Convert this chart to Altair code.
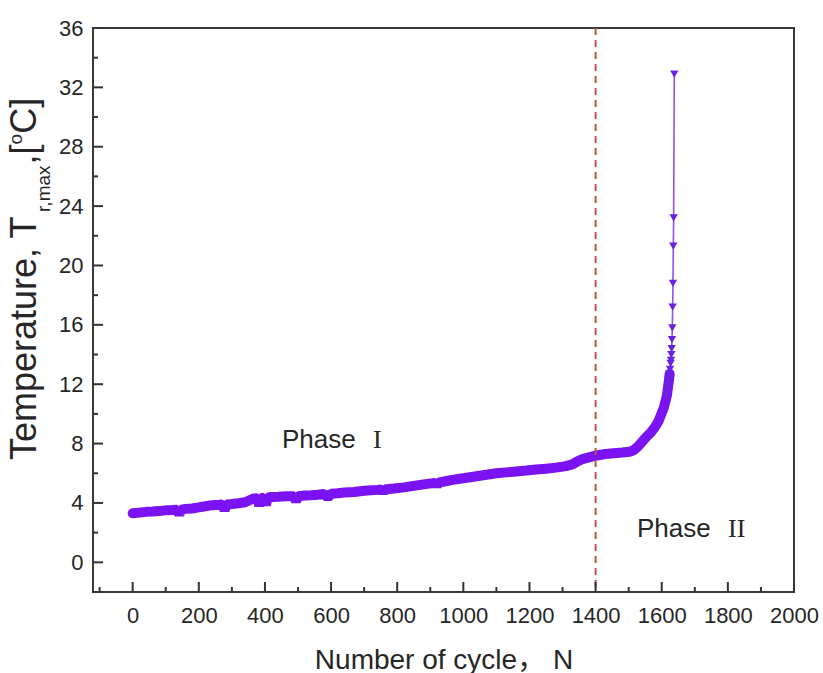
import altair as alt
import pandas as pd

# ---------------- data ----------------
cycles = [0, 20, 40, 60, 80, 100, 120, 135, 141, 147, 160, 180, 200, 220, 240, 262, 272, 278, 284,
          300, 320, 340, 355, 365, 378, 383, 388, 398, 403, 408, 420, 440, 464, 488, 494, 500,
          520, 540, 560, 580, 590, 600, 620, 640, 670, 700, 740, 752, 757, 762, 790, 820, 850,
          880, 915, 920, 925, 950, 980, 1010, 1040, 1070, 1100, 1130, 1160, 1190, 1220, 1250,
          1280, 1310, 1330, 1345, 1360, 1380, 1403, 1430, 1455, 1480, 1503, 1515, 1528, 1540,
          1554, 1567, 1579, 1590, 1599, 1606, 1612, 1616, 1619, 1622, 1624]
temp = [3.3, 3.35, 3.4, 3.42, 3.45, 3.5, 3.52, 3.55, 3.2, 3.55, 3.6, 3.63, 3.7, 3.78, 3.85, 3.88, 3.9, 3.5, 3.9,
        3.93, 3.98, 4.05, 4.2, 4.3, 4.32, 3.8, 4.3, 4.35, 3.85, 4.35, 4.4, 4.42, 4.45, 4.45, 4.1, 4.45,
        4.5, 4.52, 4.55, 4.6, 4.35, 4.62, 4.66, 4.7, 4.74, 4.82, 4.88, 4.9, 4.7, 4.9, 4.97, 5.05, 5.15,
        5.25, 5.35, 5.15, 5.37, 5.48, 5.6, 5.7, 5.8, 5.9, 6.0, 6.06, 6.12, 6.18, 6.25, 6.3,
        6.38, 6.48, 6.6, 6.8, 6.95, 7.07, 7.2, 7.3, 7.35, 7.4, 7.45, 7.55, 7.8, 8.1,
        8.46, 8.75, 9.1, 9.5, 10.0, 10.4, 10.9, 11.3, 11.8, 12.3, 12.7]

spike_cycles = [1614, 1617, 1619, 1621, 1623, 1625, 1627, 1628, 1629, 1630, 1631, 1632, 1633, 1634, 1635, 1636, 1638]
spike_temp = [11.2, 11.6, 11.9, 12.3, 12.7, 13.0, 13.4, 13.6, 14.0, 14.4, 15.0, 15.8, 17.2, 18.8, 21.3, 23.2, 32.9]

x_major = list(range(0, 2001, 200))
x_minor = list(range(-100, 2001, 200))
y_major = list(range(0, 37, 4))
y_minor = list(range(-2, 37, 4))
boundary = [1400]

# ---------------- layout ----------------
W, H = 701, 564
FONT = "Liberation Sans, Arial, Noto Sans CJK SC"
INK = "#262626"
xs = alt.Scale(domain=[-120, 2000], nice=False, zero=False)
ys = alt.Scale(domain=[-2, 36], nice=False, zero=False)

x_axis = alt.Axis(
    values=x_major, format="d", tickSize=0, domain=False, grid=False, labelFont=FONT,
    labelFontSize=22, labelColor=INK, labelPadding=13, labelFlush=False,
    title="Number of cycle， N", titleFont=FONT, titleFontSize=28,
    titleFontWeight="normal", titleColor=INK, titleY=76, titleBaseline="alphabetic")
y_axis = alt.Axis(
    values=y_major, format="d", tickSize=0, domain=False, grid=False, labelFont=FONT,
    labelFontSize=22, labelColor=INK, labelPadding=10, labelFlush=False, title="")

band_df = pd.DataFrame({"N": cycles, "T": temp})
spike_df = pd.DataFrame({"N": spike_cycles, "T": spike_temp})

band = alt.Chart(band_df).mark_line(
    color="#7A12F2", strokeWidth=10, strokeJoin="bevel", strokeCap="round"
).encode(
    x=alt.X("N:Q", scale=xs, axis=x_axis),
    y=alt.Y("T:Q", scale=ys, axis=y_axis),
)

spike = alt.Chart(spike_df).mark_line(
    color="#8A55F2", strokeWidth=1.6,
    point=alt.OverlayMarkDef(shape="triangle-down", size=70, filled=True, color="#6A22E0"),
).encode(
    x=alt.X("N:Q", scale=xs, axis=x_axis),
    y=alt.Y("T:Q", scale=ys, axis=y_axis),
)

rule = alt.Chart(pd.DataFrame({"N": boundary})).mark_rule(
    color="#C4504A", strokeWidth=2, strokeDash=[7, 5]
).encode(x=alt.X("N:Q", scale=xs, axis=x_axis))

# inward ticks
xmaj = alt.Chart(pd.DataFrame({"v": x_major})).mark_rule(color="#333", strokeWidth=2).encode(
    x=alt.X("v:Q", scale=xs, axis=x_axis), y=alt.value(H), y2=alt.value(H - 10))
xmin = alt.Chart(pd.DataFrame({"v": x_minor})).mark_rule(color="#333", strokeWidth=2).encode(
    x=alt.X("v:Q", scale=xs, axis=x_axis), y=alt.value(H), y2=alt.value(H - 5))
ymaj = alt.Chart(pd.DataFrame({"v": y_major})).mark_rule(color="#333", strokeWidth=2).encode(
    y=alt.Y("v:Q", scale=ys, axis=y_axis), x=alt.value(0), x2=alt.value(10))
ymin = alt.Chart(pd.DataFrame({"v": y_minor})).mark_rule(color="#333", strokeWidth=2).encode(
    y=alt.Y("v:Q", scale=ys, axis=y_axis), x=alt.value(0), x2=alt.value(5))

# annotations
def txt(s, x, y, size, font=FONT, angle=0, baseline="alphabetic"):
    return alt.Chart(pd.DataFrame({"t": [s]})).mark_text(
        font=font, fontSize=size, color=INK, align="left", baseline=baseline, angle=angle
    ).encode(x=alt.value(x), y=alt.value(y), text="t:N")

phase1 = txt("Phase", 189, 420, 26)
phase1n = txt("I", 280, 420, 26, font="Liberation Serif")
phase2 = txt("Phase", 544, 509, 26)
phase2n = txt("II", 635, 509, 26, font="Liberation Serif")

# rotated y title assembled from pieces (Arial advance widths per em)
AW = {"T": .611, "e": .556, "m": .833, "p": .556, "r": .333, "a": .556, "t": .278, "u": .556,
      ",": .278, " ": .278, "x": .5, "[": .278, "]": .278, "C": .722, "o": .556}
def width(s, size):
    return sum(AW[c] for c in s) * size

F, S = 36, 19
base_x = -57
y0 = 432
pieces = []
yy = y0
for s, size, dx in [("Temperature, T", F, 0), ("r,max", S, 14), (",", F, 0), ("[", F, 0),
                    ("o", S, -14), ("C]", F, 0)]:
    pieces.append(txt(s, base_x + dx, yy, size, angle=270))
    yy -= width(s, size)

chart = alt.layer(
    band, spike, rule, xmaj, xmin, ymaj, ymin, phase1, phase1n, phase2, phase2n, *pieces
).properties(
    width=W, height=H,
    autosize=alt.AutoSizeParams(type="none"),
    padding={"left": 93, "top": 28, "right": 29, "bottom": 81},
).configure_view(stroke="#3a3a3a", strokeWidth=2)

chart.save("out.html", embed_options={"renderer": "svg", "actions": False})
